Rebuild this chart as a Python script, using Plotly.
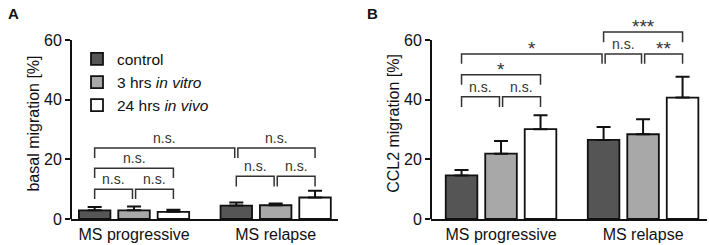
import plotly.graph_objects as go
from plotly.subplots import make_subplots

categories = ["MS progressive", "MS relapse"]
series_names = ["control", "3 hrs <i>in vitro</i>", "24 hrs <i>in vivo</i>"]
series_colors = ["#555555", "#a8a8a8", "#ffffff"]

# Panel A: basal migration [%]
basal_mean = [[2.9, 4.5], [2.9, 4.6], [2.4, 7.2]]
basal_err = [[1.1, 1.0], [1.3, 0.6], [0.7, 2.3]]

# Panel B: CCL2 migration [%]
ccl2_mean = [[14.6, 26.5], [21.9, 28.4], [30.1, 40.7]]
ccl2_err = [[1.8, 4.3], [4.2, 5.0], [4.7, 7.0]]

# Significance brackets: (group_a, bar_a, group_b, bar_b, height, leg, label)
brackets_A = [
    (0, 0, 0, 1, 10.0, 3.3, "n.s."),
    (0, 1, 0, 2, 10.0, 3.3, "n.s."),
    (0, 0, 0, 2, 17.0, 3.3, "n.s."),
    (0, 0, 1, 0, 23.8, 3.4, "n.s."),
    (1, 0, 1, 2, 23.8, 3.4, "n.s."),
    (1, 0, 1, 1, 14.3, 3.4, "n.s."),
    (1, 1, 1, 2, 14.3, 3.4, "n.s."),
]
brackets_B = [
    (0, 0, 0, 1, 41.0, 3.5, "n.s."),
    (0, 1, 0, 2, 41.0, 3.5, "n.s."),
    (0, 0, 0, 2, 48.3, 3.3, "*"),
    (0, 0, 1, 0, 55.3, 3.3, "*"),
    (1, 0, 1, 1, 55.3, 3.3, "n.s."),
    (1, 1, 1, 2, 55.3, 3.3, "**"),
    (1, 0, 1, 2, 62.7, 3.5, "***"),
]

FONT = "Liberation Sans, Arial, sans-serif"
BARGAP = 0.166
SLOT = (1 - BARGAP) / 3
GAP = 0.011

fig = make_subplots(rows=1, cols=2)

for col, (means, errs) in enumerate([(basal_mean, basal_err), (ccl2_mean, ccl2_err)], start=1):
    for i in range(3):
        fig.add_trace(
            go.Bar(
                x=categories,
                y=means[i],
                name=series_names[i],
                marker=dict(color=series_colors[i], line=dict(color="#111111", width=1.8)),
                error_y=dict(type="data", symmetric=False, array=errs[i],
                             arrayminus=[0] * len(errs[i]),
                             color="#111111", thickness=2, width=7),
                showlegend=(col == 1),
            ),
            row=1, col=col,
        )

def bar_pos(g, b):
    return g + (b - 1) * SLOT

def add_brackets(brackets, xref, yref):
    for (ga, ba, gb, bb, h, leg, label) in brackets:
        xa = bar_pos(ga, ba)
        xb = bar_pos(gb, bb)
        for other in brackets:
            if other[4] == h:
                oa = bar_pos(other[0], other[1])
                ob = bar_pos(other[2], other[3])
                if abs(ob - xa) < 1e-9:
                    xa += GAP
                if abs(oa - xb) < 1e-9:
                    xb -= GAP
        fig.add_shape(type="path",
                      path=f"M {xa},{h - leg} L {xa},{h} L {xb},{h} L {xb},{h - leg}",
                      xref=xref, yref=yref,
                      line=dict(color="#333333", width=1.5))
        is_star = label.startswith("*")
        fig.add_annotation(x=(xa + xb) / 2, y=h, xref=xref, yref=yref,
                           text=label, showarrow=False, yanchor="bottom",
                           yshift=-7 if is_star else 0,
                           font=dict(family=FONT, size=14 if not is_star else 19, color="#333333"))

add_brackets(brackets_A, "x", "y")
add_brackets(brackets_B, "x2", "y2")

ymax = 64
for col, (title, dom) in enumerate([("basal migration [%]", [71 / 709, 338 / 709]),
                                      ("CCL2 migration [%]", [431 / 709, 707 / 709])], start=1):
    xa = "xaxis" if col == 1 else "xaxis2"
    ya = "yaxis" if col == 1 else "yaxis2"
    fig.layout[xa].update(domain=dom, range=[-0.445 if col == 1 else -0.493, 1.44 if col == 1 else 1.45],
                          showline=True, linecolor="#111111", linewidth=2, ticks="",
                          showgrid=False, zeroline=False,
                          tickfont=dict(family=FONT, size=16, color="#111111"))
    fig.layout[ya].update(range=[0, ymax], tickvals=[0, 20, 40, 60],
                          showline=False, ticks="outside", ticklen=5, tickwidth=2,
                          tickcolor="#111111", showgrid=False, zeroline=False,
                          tickfont=dict(family=FONT, size=16, color="#111111"),
                          title=dict(text=title, standoff=0,
                                     font=dict(family=FONT, size=16, color="#111111")))
    fig.add_shape(type="line", xref=("x" if col == 1 else "x2") + " domain",
                  yref="y" if col == 1 else "y2", x0=0, x1=0, y0=0, y1=60,
                  line=dict(color="#111111", width=2))

fig.add_annotation(x=13 / 709, y=1 + 15 / 191, xref="paper", yref="paper", text="<b>A</b>",
                   showarrow=False, xanchor="center", yanchor="middle",
                   font=dict(family=FONT, size=15, color="#111111"))
fig.add_annotation(x=372 / 709, y=1 + 15 / 191, xref="paper", yref="paper", text="<b>B</b>",
                   showarrow=False, xanchor="center", yanchor="middle",
                   font=dict(family=FONT, size=15, color="#111111"))

fig.update_layout(
    width=709, height=245,
    margin=dict(l=0, r=0, t=28, b=26),
    barmode="group", bargap=BARGAP, bargroupgap=0.2,
    plot_bgcolor="white", paper_bgcolor="white",
    font=dict(family=FONT, color="#111111"),
    legend=dict(x=77 / 709, y=0.925, xanchor="left", yanchor="top",
                font=dict(family=FONT, size=15.5, color="#111111"),
                bgcolor="rgba(0,0,0,0)", tracegroupgap=0, itemwidth=30),
)

fig.write_html("out.html", config={"displayModeBar": False},
               post_script="document.body.style.margin='0';")
